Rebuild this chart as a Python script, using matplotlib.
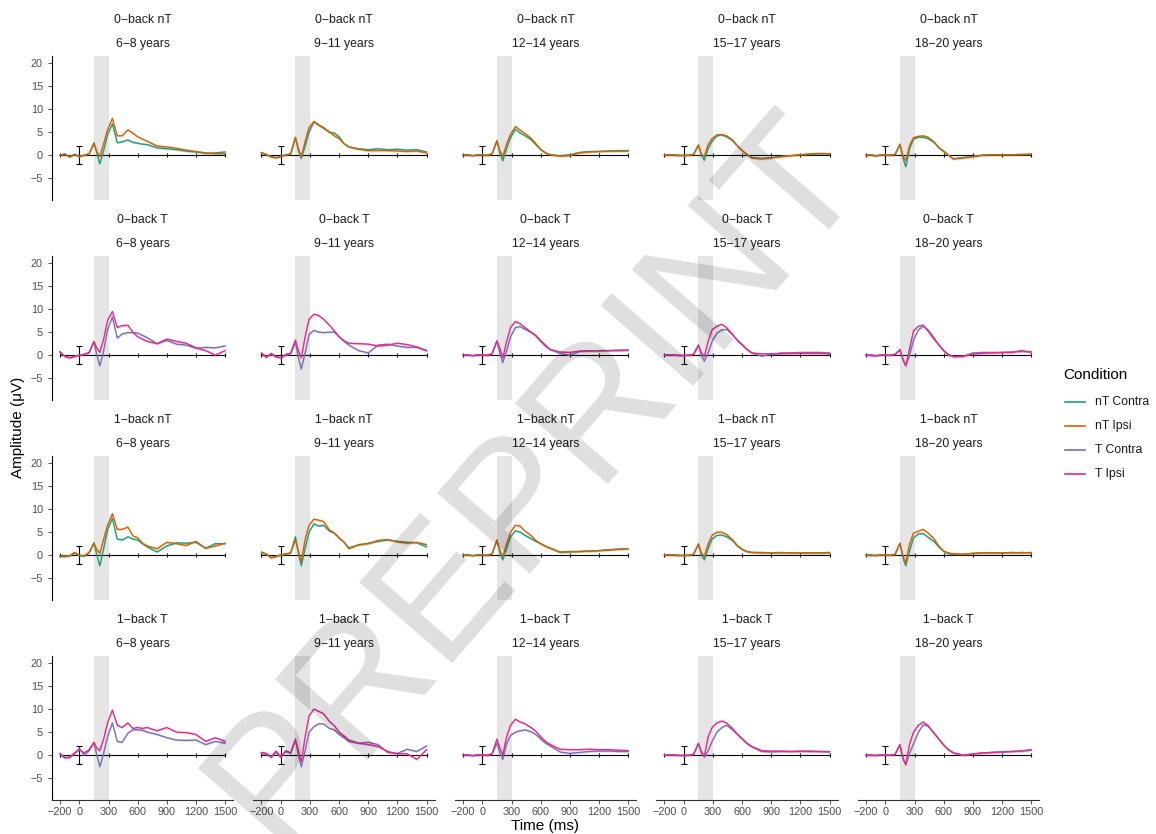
import numpy as np
import matplotlib.pyplot as plt
from matplotlib.lines import Line2D

plt.rcParams['font.family'] = ['Liberation Sans', 'DejaVu Sans']

times = [-200, -150, -100, -50, 0, 50, 100, 150, 180, 210, 250, 290, 340, 390,
         440, 500, 550, 600, 650, 700, 800, 900, 1000, 1100, 1200, 1300, 1400, 1500]

ages = ['6−8 years', '9−11 years', '12−14 years', '15−17 years', '18−20 years']
tasks = ['0−back nT', '0−back T', '1−back nT', '1−back T']
conditions = ['nT Contra', 'nT Ipsi', 'T Contra', 'T Ipsi']
colors = ['#1B9E77', '#D95F02', '#7570B3', '#E7298A']
xticks = [-200, 0, 300, 600, 900, 1200, 1500]
yticks = [-5, 0, 5, 10, 15, 20]

# amplitudes (µV), one list per age group
zb_nT_contra = [
    [0.0, 0.2, -0.3, 0.2, -0.2, 0.0, 0.3, 2.7, 0.5, -1.9, 1.0, 4.5, 6.8, 2.7, 2.9, 3.3, 2.8, 2.6, 2.4, 2.3, 1.6, 1.4, 1.2, 0.9, 0.7, 0.4, 0.5, 0.7],
    [0.5, 0.2, -0.4, -0.6, -0.2, 0.0, 0.2, 3.8, 1.0, -0.7, 2.0, 5.0, 7.2, 6.5, 5.8, 5.0, 4.8, 4.0, 2.5, 1.8, 1.4, 1.2, 1.4, 1.2, 1.3, 1.1, 1.2, 0.7],
    [0.1, 0.0, -0.1, 0.1, 0.0, 0.0, 0.3, 3.1, 0.5, -1.2, 1.5, 3.8, 5.6, 4.8, 4.2, 3.4, 2.3, 1.2, 0.5, 0.1, -0.1, 0.1, 0.6, 0.8, 0.8, 0.9, 1.0, 1.0],
    [0.0, 0.1, 0.0, -0.1, 0.0, 0.0, 0.2, 2.2, 0.0, -1.1, 1.5, 3.0, 4.2, 4.4, 4.0, 3.2, 2.0, 1.0, 0.2, -0.5, -0.7, -0.5, -0.3, -0.1, 0.1, 0.2, 0.3, 0.3],
    [0.1, 0.0, -0.2, 0.1, 0.0, 0.0, 0.2, 2.3, -0.5, -2.5, 1.5, 3.5, 3.9, 3.9, 3.6, 2.8, 1.6, 0.8, 0.0, -0.8, -0.5, -0.3, 0.0, 0.1, 0.1, 0.1, 0.1, 0.2],
]
zb_nT_ipsi = [
    [0.0, 0.3, -0.4, 0.1, -0.3, 0.0, 0.3, 2.5, 0.8, -0.3, 2.5, 5.5, 8.0, 4.2, 4.2, 5.5, 4.8, 4.0, 3.5, 3.0, 2.0, 1.8, 1.5, 1.1, 0.8, 0.5, 0.3, 0.3],
    [0.6, 0.1, -0.3, -0.5, -0.3, 0.1, 0.3, 3.9, 1.5, -0.3, 3.0, 6.0, 7.3, 6.6, 6.0, 5.0, 4.2, 3.6, 2.5, 1.8, 1.3, 1.0, 1.0, 1.0, 0.9, 0.8, 0.9, 0.5],
    [0.0, 0.1, -0.1, 0.0, 0.1, 0.0, 0.3, 3.2, 1.0, -0.3, 2.5, 4.5, 6.2, 5.4, 4.7, 3.7, 2.5, 1.3, 0.5, 0.1, -0.2, -0.1, 0.5, 0.7, 0.8, 0.9, 0.9, 0.9],
    [0.1, 0.0, 0.1, 0.0, -0.1, 0.0, 0.2, 2.2, 0.3, -0.3, 2.3, 3.6, 4.4, 4.5, 4.2, 3.3, 2.1, 1.0, 0.1, -0.6, -0.8, -0.6, -0.3, -0.1, 0.1, 0.3, 0.4, 0.3],
    [0.0, 0.1, -0.1, 0.0, 0.1, 0.0, 0.2, 2.4, 0.0, -1.2, 2.2, 3.8, 4.1, 4.2, 3.9, 2.9, 1.7, 0.9, 0.0, -0.8, -0.6, -0.3, 0.0, 0.1, 0.1, 0.1, 0.2, 0.2],
]
zb_T_contra = [
    [0.6, -0.2, -0.5, -0.2, 0.0, 0.2, 0.5, 2.9, 0.0, -2.3, 1.0, 5.5, 8.3, 3.7, 4.6, 4.9, 4.9, 4.8, 4.3, 3.8, 2.5, 3.2, 2.4, 2.2, 1.5, 1.7, 1.6, 2.0],
    [0.3, -0.3, 0.2, -0.4, -0.5, 0.0, 0.3, 2.8, -0.5, -3.0, 0.5, 4.5, 5.4, 5.0, 4.9, 5.0, 5.0, 4.0, 3.0, 2.2, 1.0, 0.5, 2.2, 2.4, 2.0, 1.7, 1.7, 1.0],
    [0.1, 0.0, -0.1, 0.1, 0.0, 0.0, 0.3, 3.1, 0.5, -1.6, 1.0, 4.0, 6.0, 6.2, 5.6, 5.0, 4.3, 3.2, 2.2, 1.2, 0.4, 0.0, 0.8, 1.0, 0.9, 1.0, 1.1, 1.1],
    [0.0, 0.1, 0.0, -0.1, 0.0, 0.0, 0.2, 2.2, 0.0, -1.3, 0.5, 3.0, 4.8, 5.5, 5.6, 4.5, 3.2, 2.2, 1.2, 0.5, -0.2, 0.2, 0.5, 0.5, 0.6, 0.6, 0.6, 0.5],
    [0.1, -0.1, -0.2, 0.1, 0.0, 0.0, 0.2, 1.2, -1.0, -2.3, 0.0, 3.3, 5.5, 6.3, 5.5, 3.8, 2.2, 1.0, 0.2, -0.3, -0.3, 0.5, 0.6, 0.6, 0.6, 0.7, 0.8, 0.8],
]
zb_T_ipsi = [
    [0.8, -0.3, -0.6, -0.3, 0.0, 0.2, 0.6, 3.0, 1.5, 0.6, 3.5, 7.5, 9.5, 6.0, 6.4, 6.5, 5.0, 4.0, 3.5, 3.0, 2.5, 3.5, 3.0, 2.6, 1.6, 1.0, 0.0, 1.0],
    [0.5, -0.5, 0.4, -0.3, -0.6, 0.2, 0.4, 3.3, 1.0, -0.6, 4.0, 7.8, 8.9, 8.6, 7.8, 6.5, 5.3, 4.0, 3.1, 2.6, 2.5, 2.4, 2.0, 2.2, 2.6, 2.3, 1.8, 1.0],
    [0.0, 0.1, -0.1, 0.0, 0.1, 0.0, 0.3, 3.1, 1.5, -0.6, 3.0, 6.0, 7.3, 6.8, 6.0, 5.0, 4.2, 3.0, 2.0, 1.2, 0.7, 0.6, 0.9, 0.9, 1.0, 1.0, 1.0, 1.1],
    [0.1, 0.0, 0.1, 0.0, -0.1, 0.0, 0.2, 2.2, 0.5, -0.3, 3.0, 5.5, 6.3, 6.7, 6.0, 4.5, 3.3, 2.3, 1.3, 0.5, 0.3, 0.3, 0.3, 0.4, 0.4, 0.4, 0.4, 0.3],
    [0.0, 0.1, -0.1, 0.0, 0.1, 0.0, 0.2, 1.2, -0.8, -2.3, 1.5, 5.3, 6.3, 6.5, 5.2, 3.5, 2.3, 1.0, 0.0, -0.3, -0.2, 0.2, 0.4, 0.5, 0.6, 0.6, 1.0, 0.6],
]
ob_nT_contra = [
    [-0.3, -0.3, -0.2, 0.5, -0.1, -0.2, 0.5, 2.7, 0.0, -2.3, 1.5, 5.5, 8.0, 3.5, 3.3, 4.0, 3.5, 3.3, 2.5, 1.8, 0.7, 2.0, 2.7, 2.6, 2.8, 1.5, 2.5, 2.5],
    [0.5, 0.3, -0.5, -0.3, 0.0, 0.2, 0.5, 4.0, 0.5, -2.3, 1.5, 5.0, 6.8, 6.3, 6.5, 5.2, 4.8, 3.7, 2.8, 1.6, 2.2, 2.6, 3.0, 3.3, 3.0, 2.8, 2.7, 1.8],
    [0.1, 0.0, -0.1, 0.1, 0.0, 0.0, 0.3, 3.3, 0.5, -1.0, 1.5, 4.0, 5.3, 5.0, 4.3, 3.6, 3.0, 2.5, 2.0, 1.5, 0.6, 0.7, 0.8, 0.9, 1.0, 1.2, 1.3, 1.4],
    [0.0, 0.1, 0.0, -0.1, 0.0, 0.0, 0.2, 2.4, 0.0, -1.0, 1.5, 3.5, 4.3, 4.4, 4.0, 3.2, 2.0, 1.2, 0.8, 0.6, 0.6, 0.5, 0.5, 0.5, 0.5, 0.5, 0.5, 0.5],
    [0.1, -0.1, 0.0, 0.1, 0.0, 0.0, 0.2, 2.6, -0.5, -2.3, 1.0, 3.8, 4.6, 4.7, 3.9, 3.0, 1.8, 0.8, 0.3, 0.2, 0.2, 0.4, 0.5, 0.5, 0.5, 0.6, 0.5, 0.6],
]
ob_nT_ipsi = [
    [-0.2, -0.2, -0.1, 0.6, 0.0, -0.1, 0.6, 2.6, 1.2, 0.4, 3.5, 6.5, 9.0, 5.6, 5.6, 6.1, 4.2, 3.8, 2.6, 2.0, 1.4, 2.8, 2.5, 2.1, 3.0, 1.5, 2.0, 2.6],
    [0.7, 0.2, -0.6, -0.2, 0.1, 0.3, 0.5, 3.3, 1.0, -1.4, 3.5, 6.5, 7.8, 7.6, 7.3, 5.5, 4.8, 3.8, 2.8, 1.4, 2.3, 2.5, 3.2, 3.4, 2.9, 2.6, 2.8, 2.3],
    [0.0, 0.1, -0.1, 0.0, 0.1, 0.0, 0.3, 3.3, 1.0, -0.3, 2.5, 5.0, 6.5, 6.3, 5.2, 4.3, 3.2, 2.5, 1.9, 1.5, 0.7, 0.8, 0.8, 0.9, 1.0, 1.1, 1.3, 1.4],
    [0.1, 0.0, 0.1, 0.0, -0.1, 0.0, 0.2, 2.5, 0.5, -0.3, 2.5, 4.3, 5.0, 5.0, 4.5, 3.4, 2.1, 1.3, 0.8, 0.6, 0.5, 0.5, 0.6, 0.5, 0.5, 0.5, 0.5, 0.6],
    [0.0, 0.1, -0.1, 0.0, 0.1, 0.0, 0.2, 2.6, 0.0, -1.7, 2.5, 4.8, 5.2, 5.6, 4.8, 3.6, 2.0, 0.9, 0.5, 0.3, 0.2, 0.4, 0.5, 0.5, 0.5, 0.5, 0.6, 0.5],
]
ob_T_contra = [
    [0.2, -0.6, -0.5, 0.3, 1.5, 0.0, 1.0, 2.7, 0.0, -2.5, 0.5, 4.0, 7.0, 3.0, 2.8, 4.8, 5.5, 5.5, 5.4, 5.0, 4.5, 3.8, 3.3, 3.2, 3.3, 2.3, 3.0, 2.6],
    [0.4, 0.2, -0.5, 0.6, -0.5, 0.8, 0.4, 3.3, 0.0, -2.5, 1.0, 5.0, 6.2, 6.8, 6.8, 5.8, 5.5, 4.5, 3.8, 3.0, 2.6, 2.8, 2.3, 0.6, 0.4, 1.3, 0.8, 2.0],
    [0.1, 0.0, -0.1, 0.1, 0.0, 0.0, 0.3, 2.6, 0.5, -0.9, 2.5, 4.3, 5.0, 5.3, 5.5, 5.1, 4.5, 3.5, 2.6, 2.0, 0.7, 0.4, 0.6, 0.8, 0.9, 0.9, 0.8, 0.8],
    [0.0, 0.1, 0.0, -0.1, 0.0, 0.0, 0.2, 2.5, 0.5, -0.4, 1.0, 3.0, 5.0, 6.0, 6.5, 5.5, 4.5, 3.5, 2.5, 1.8, 0.8, 0.7, 0.8, 0.8, 0.8, 0.9, 0.8, 0.7],
    [0.1, -0.1, 0.0, 0.1, 0.0, 0.0, 0.2, 2.2, -0.8, -2.1, 0.5, 2.5, 5.0, 6.6, 6.3, 4.8, 3.5, 2.2, 1.2, 0.5, 0.0, 0.2, 0.5, 0.6, 0.7, 0.8, 0.9, 1.1],
]
ob_T_ipsi = [
    [0.4, -0.5, -0.4, 0.5, 1.2, 0.5, 1.2, 2.8, 1.5, 1.0, 3.5, 7.0, 9.8, 6.5, 6.0, 7.0, 5.8, 6.0, 5.8, 6.0, 5.3, 6.0, 5.0, 4.9, 4.5, 3.0, 3.8, 3.0],
    [0.6, 0.4, -0.3, 0.9, -0.4, 1.0, 0.5, 3.5, 1.0, -1.4, 4.0, 8.5, 10.0, 9.5, 9.0, 7.3, 6.4, 5.0, 4.2, 3.3, 2.6, 2.3, 1.9, 0.8, 0.3, 0.3, -0.9, 1.2],
    [0.0, 0.1, -0.1, 0.0, 0.1, 0.0, 0.3, 3.5, 1.5, 0.1, 4.0, 6.5, 7.8, 7.2, 6.8, 6.0, 5.2, 4.0, 3.0, 2.3, 1.3, 1.2, 1.2, 1.3, 1.2, 1.2, 1.1, 1.0],
    [0.1, 0.0, 0.1, 0.0, -0.1, 0.0, 0.2, 2.6, 0.8, -0.3, 4.0, 6.0, 7.0, 7.4, 7.0, 5.8, 4.6, 3.6, 2.6, 1.9, 1.0, 0.9, 0.9, 0.8, 0.9, 0.8, 0.8, 0.8],
    [0.0, 0.1, -0.1, 0.0, 0.1, 0.0, 0.2, 2.3, -0.5, -2.0, 2.5, 5.0, 6.5, 7.2, 6.4, 4.8, 3.5, 2.2, 1.2, 0.5, 0.0, 0.3, 0.5, 0.6, 0.7, 0.8, 0.9, 1.2],
]

# (contra, ipsi, colour index of contra) for each row of panels
rows = [(zb_nT_contra, zb_nT_ipsi, 0),
        (zb_T_contra, zb_T_ipsi, 2),
        (ob_nT_contra, ob_nT_ipsi, 0),
        (ob_T_contra, ob_T_ipsi, 2)]

W, H = 1156, 834
fig = plt.figure(figsize=(W / 100, H / 100), dpi=100)

def px(x, y):
    return x / W, 1 - y / H

for r in range(4):
    contra, ipsi, ci = rows[r]
    for c in range(5):
        left = 51.7 + 201.5 * c
        top = 56 + 200 * r
        ax = fig.add_axes([left / W, 1 - (top + 143.5) / H, 181.6 / W, 143.5 / H])
        ax.set_xlim(-285, 1585)
        ax.set_ylim(-9.6, 21.5)
        ax.axvspan(150, 300, color='#e5e5e5', lw=0, zorder=0)
        ax.plot([-200, 1500], [0, 0], color='black', lw=0.8, zorder=1)
        ax.vlines(xticks, -0.45, 0.45, color='black', lw=0.8, zorder=1)
        ax.errorbar([0], [0], yerr=[2], color='black', lw=0.8, capsize=2.5,
                    capthick=0.8, zorder=2)
        for vals, k in ((contra[c], ci), (ipsi[c], ci + 1)):
            v = np.array(vals)
            ax.fill_between(times, v - 0.25, v + 0.25, color=colors[k],
                            alpha=0.2, lw=0, zorder=2)
            ax.plot(times, v, color=colors[k], lw=1.0, zorder=3)

        for s in ax.spines.values():
            s.set_visible(False)
        ax.tick_params(colors='#333333', labelcolor='#4d4d4d', labelsize=7.8,
                       length=2.8, width=0.6)
        if c == 0:
            ax.spines['left'].set_visible(True)
            ax.spines['left'].set_linewidth(0.8)
            ax.set_yticks(yticks)
        else:
            ax.set_yticks([])
        if r == 3:
            ax.spines['bottom'].set_visible(True)
            ax.spines['bottom'].set_linewidth(0.8)
            ax.spines['bottom'].set_color('#333333')
            ax.set_xticks(xticks)
            ax.tick_params(axis='x', pad=2.5)
        else:
            ax.set_xticks([])
        ax.tick_params(axis='y', pad=3.5)

        cx = left + 90.8
        fig.text(*px(cx, top - 36), tasks[r], ha='center', va='center',
                 fontsize=8.8, color='#1a1a1a')
        fig.text(*px(cx, top - 12), ages[c], ha='center', va='center',
                 fontsize=8.8, color='#1a1a1a')

fig.text(*px(18, 427), 'Amplitude (μV)', rotation=90, ha='center', va='center',
         fontsize=11)
fig.text(*px(545, 826), 'Time (ms)', ha='center', va='center', fontsize=11)

# legend
fig.text(*px(1063, 375), 'Condition', ha='left', va='center', fontsize=11)
for i, name in enumerate(conditions):
    y = 402 + 24 * i
    fig.add_artist(Line2D([1065 / W, 1085 / W], [1 - y / H, 1 - y / H],
                          color=colors[i], lw=1.2))
    fig.text(*px(1095, y), name, ha='left', va='center', fontsize=8.8,
             color='#1a1a1a')

# watermark
fig.text(*px(537, 480), 'PREPRINT', rotation=49, ha='center', va='center',
         fontsize=128, color='black', alpha=0.13, zorder=10)

fig.savefig('out.png', dpi=100)
